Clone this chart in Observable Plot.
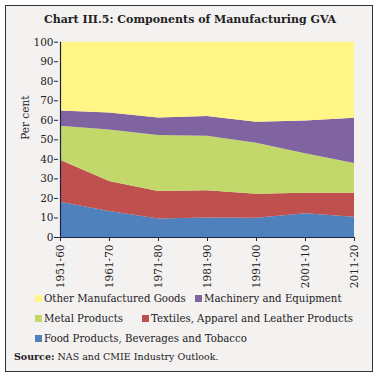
<!DOCTYPE html>
<html><head><meta charset="utf-8">
<script src="https://cdn.jsdelivr.net/npm/d3@7"></script>
<script src="https://cdn.jsdelivr.net/npm/@observablehq/plot@0.6"></script>
<style>
html,body{margin:0;padding:0;background:#fff;}
#page{position:relative;width:380px;height:377px;font-family:"DejaVu Serif",serif;color:#222;}
#frame{position:absolute;left:5px;top:5px;width:366px;height:365px;border:1.5px solid #333;background:#f4f1f1;}
#title{position:absolute;left:0;width:380px;top:13px;text-align:center;font-weight:bold;font-size:11px;}
#chart{position:absolute;left:0;top:0;}
.lg{position:absolute;font-size:10.2px;white-space:nowrap;}
.sw{display:inline-block;width:7px;height:7px;margin-right:2px;vertical-align:0px;}
#src{position:absolute;left:14px;top:351px;font-size:9.5px;white-space:nowrap;}
</style></head>
<body>
<div id="page"><div id="frame"></div><div id="title">Chart III.5: Components of Manufacturing GVA</div><div id="chart"></div></div>
<script>
const decades = ["1951-60","1961-70","1971-80","1981-90","1991-00","2001-10","2011-20"];
const seriesNames = ["Food Products, Beverages and Tobacco","Textiles, Apparel and Leather Products","Metal Products","Machinery and Equipment","Other Manufactured Goods"];
const food      = [18.0, 13.3,  9.5, 10.0,  9.9, 12.1, 10.4];
const textiles  = [21.6, 15.4, 14.1, 14.0, 12.2, 10.5, 12.2];
const metal     = [17.4, 26.3, 28.6, 27.9, 26.2, 20.3, 15.3];
const machinery = [ 7.8,  8.8,  9.0, 10.0, 10.7, 16.8, 23.1];
const other     = [35.2, 36.2, 38.8, 38.1, 41.0, 40.3, 39.0];
const colors = ["#4f81bd","#c0504d","#c3d86a","#8064a2","#fff685"];
const yTicks = [0,10,20,30,40,50,60,70,80,90,100];

const seriesValues = [food, textiles, metal, machinery, other];
const data = [];
seriesNames.forEach((s,i)=>decades.forEach((d,j)=>data.push({decade:d, series:s, value:seriesValues[i][j]})));

const plot = Plot.plot({
  width: 380, height: 300,
  marginLeft: 58, marginRight: 25, marginTop: 41.7, marginBottom: 63,
  style: {background: "transparent", fontFamily: "DejaVu Serif, serif", fontSize: "10.5px", color: "#222"},
  x: {type: "point", domain: decades, padding: 0},
  y: {domain: [0,100]},
  color: {domain: seriesNames, range: colors},
  marks: [
    Plot.areaY(data, Plot.stackY({order: seriesNames}, {x: "decade", y: "value", z: "series", fill: "series"})),
    Plot.ruleY([0], {stroke: "#1f2540", strokeWidth: 1.2}),
    Plot.ruleX([decades[0]], {stroke: "#1f2540", strokeWidth: 1.2}),
    Plot.axisY({ticks: yTicks, tickSize: 4, tickPadding: 1, label: null, stroke: "#1f2540"}),
    Plot.axisX({tickSize: 4, tickRotate: -90, tickPadding: 3, label: null, stroke: "#1f2540"}),
    Plot.text(["Per cent"], {frameAnchor: "left", dx: -33, rotate: -90, text: d => d, fontSize: 10.5})
  ]
});
document.getElementById("chart").appendChild(plot);

// legend
const page = document.getElementById("page");
const legendPos = [
  {s: 4, x: 35, y: 293},
  {s: 3, x: 195, y: 293},
  {s: 2, x: 35, y: 313},
  {s: 1, x: 142, y: 313},
  {s: 0, x: 35, y: 333}
];
legendPos.forEach(p => {
  const el = document.createElement("div");
  el.className = "lg";
  el.style.left = p.x + "px";
  el.style.top = p.y + "px";
  el.innerHTML = `<span class="sw" style="background:${colors[p.s]}"></span>${seriesNames[p.s]}`;
  page.appendChild(el);
});
const src = document.createElement("div");
src.id = "src";
src.innerHTML = "<b>Source:</b> NAS and CMIE Industry Outlook.";
page.appendChild(src);
</script>
</body></html>
